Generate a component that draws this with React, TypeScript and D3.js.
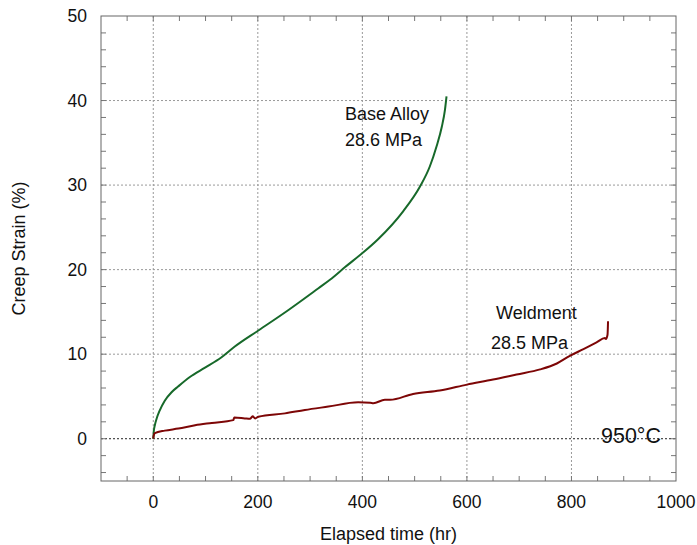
import React from "react";
import * as d3 from "d3";

const baseTime = [0, 1, 3, 6.5, 12, 22, 35, 48, 70, 99, 130, 156, 201, 258, 316, 338, 367, 399, 430, 478, 510, 529, 542, 552, 558, 561];
const baseStrain = [0, 0.9, 1.6, 2.4, 3.3, 4.5, 5.5, 6.2, 7.3, 8.4, 9.6, 10.9, 12.8, 15.2, 17.8, 18.8, 20.3, 21.9, 23.6, 26.9, 29.8, 32.2, 34.6, 36.9, 38.9, 40.5];

const weldTime = [0, 1, 3, 22, 48, 80, 112, 153, 155, 175, 185, 190, 195, 201, 252, 290, 335, 392, 415, 421, 443, 453, 497, 548, 600, 650, 695, 740, 772, 797, 823, 848, 864, 866, 869, 870];
const weldStrain = [0, 0.4, 0.65, 0.96, 1.2, 1.6, 1.87, 2.2, 2.5, 2.4, 2.35, 2.65, 2.4, 2.6, 3.0, 3.4, 3.8, 4.3, 4.27, 4.2, 4.6, 4.6, 5.3, 5.7, 6.4, 7.0, 7.6, 8.2, 8.9, 9.8, 10.6, 11.4, 11.9, 11.8, 12.3, 13.9];

const xTickLabels = [0, 200, 400, 600, 800, 1000];
const yTickLabels = [0, 10, 20, 30, 40, 50];

const W = 697;
const H = 545;
const left = 101, right = 676, top = 16, bottom = 481;
const FONT = "'Liberation Sans', Arial, sans-serif";

export default function App() {
  const x = d3.scaleLinear().domain([-100, 1000]).range([left, right]);
  const y = d3.scaleLinear().domain([-5, 50]).range([bottom, top]);

  const smooth = d3
    .line<[number, number]>()
    .x((d) => x(d[0]))
    .y((d) => y(d[1]))
    .curve(d3.curveMonotoneX);

  const baseData: [number, number][] = baseTime.map((t, i) => [t, baseStrain[i]]);
  const weldData: [number, number][] = weldTime.map((t, i) => [t, weldStrain[i]]);

  const xMinor = d3.range(-50, 1000, 50);
  const yMinor = d3.range(-4, 50, 2);
  const xGrid = [0, 200, 400, 600, 800];
  const yGrid = [10, 20, 30, 40];
  const tl = 5;

  return (
    <svg width={W} height={H} style={{ position: "absolute", left: 0, top: 0, background: "#fff" }} fontFamily={FONT}>
      {xGrid.map((v) => (
        <line key={"gx" + v} x1={x(v)} x2={x(v)} y1={top} y2={bottom} stroke="#999" strokeWidth={1} strokeDasharray="2,2" />
      ))}
      {yGrid.map((v) => (
        <line key={"gy" + v} x1={left} x2={right} y1={y(v)} y2={y(v)} stroke="#999" strokeWidth={1} strokeDasharray="2,2" />
      ))}
      <line x1={left} x2={right} y1={y(0)} y2={y(0)} stroke="#222" strokeWidth={1} strokeDasharray="2,2" />

      {xMinor.map((v) => (
        <g key={"tx" + v}>
          <line x1={x(v)} x2={x(v)} y1={bottom} y2={bottom - tl} stroke="#777" />
          <line x1={x(v)} x2={x(v)} y1={top} y2={top + tl} stroke="#777" />
        </g>
      ))}
      {yMinor.map((v) => (
        <g key={"ty" + v}>
          <line x1={left} x2={left + tl} y1={y(v)} y2={y(v)} stroke="#777" />
          <line x1={right} x2={right - tl} y1={y(v)} y2={y(v)} stroke="#777" />
        </g>
      ))}

      <rect x={left} y={top} width={right - left} height={bottom - top} fill="none" stroke="#666" strokeWidth={1} />

      <path d={smooth(baseData) || ""} fill="none" stroke="#17692a" strokeWidth={2} strokeLinejoin="round" />
      <path d={smooth(weldData) || ""} fill="none" stroke="#7d0606" strokeWidth={2} strokeLinejoin="round" />

      {xTickLabels.map((v) => (
        <text key={"lx" + v} x={x(v)} y={508} textAnchor="middle" fontSize={17.5} fill="#111">
          {v}
        </text>
      ))}
      {yTickLabels.map((v) => (
        <text key={"ly" + v} x={87} y={y(v) + 6.3} textAnchor="end" fontSize={17.5} fill="#111">
          {v}
        </text>
      ))}

      <text x={(left + right) / 2} y={540} textAnchor="middle" fontSize={18} fill="#111">
        Elapsed time (hr)
      </text>
      <text transform={`translate(25,${(top + bottom) / 2}) rotate(-90)`} textAnchor="middle" fontSize={18} fill="#111">
        Creep Strain (%)
      </text>

      <text x={345} y={120} fontSize={18} fill="#111">Base Alloy</text>
      <text x={345} y={146} fontSize={18} fill="#111">28.6 MPa</text>
      <text x={496} y={319} fontSize={18} fill="#111">Weldment</text>
      <text x={491} y={349} fontSize={18} fill="#111">28.5 MPa</text>
      <text x={601} y={443} fontSize={21.5} fill="#111">950°C</text>
    </svg>
  );
}
